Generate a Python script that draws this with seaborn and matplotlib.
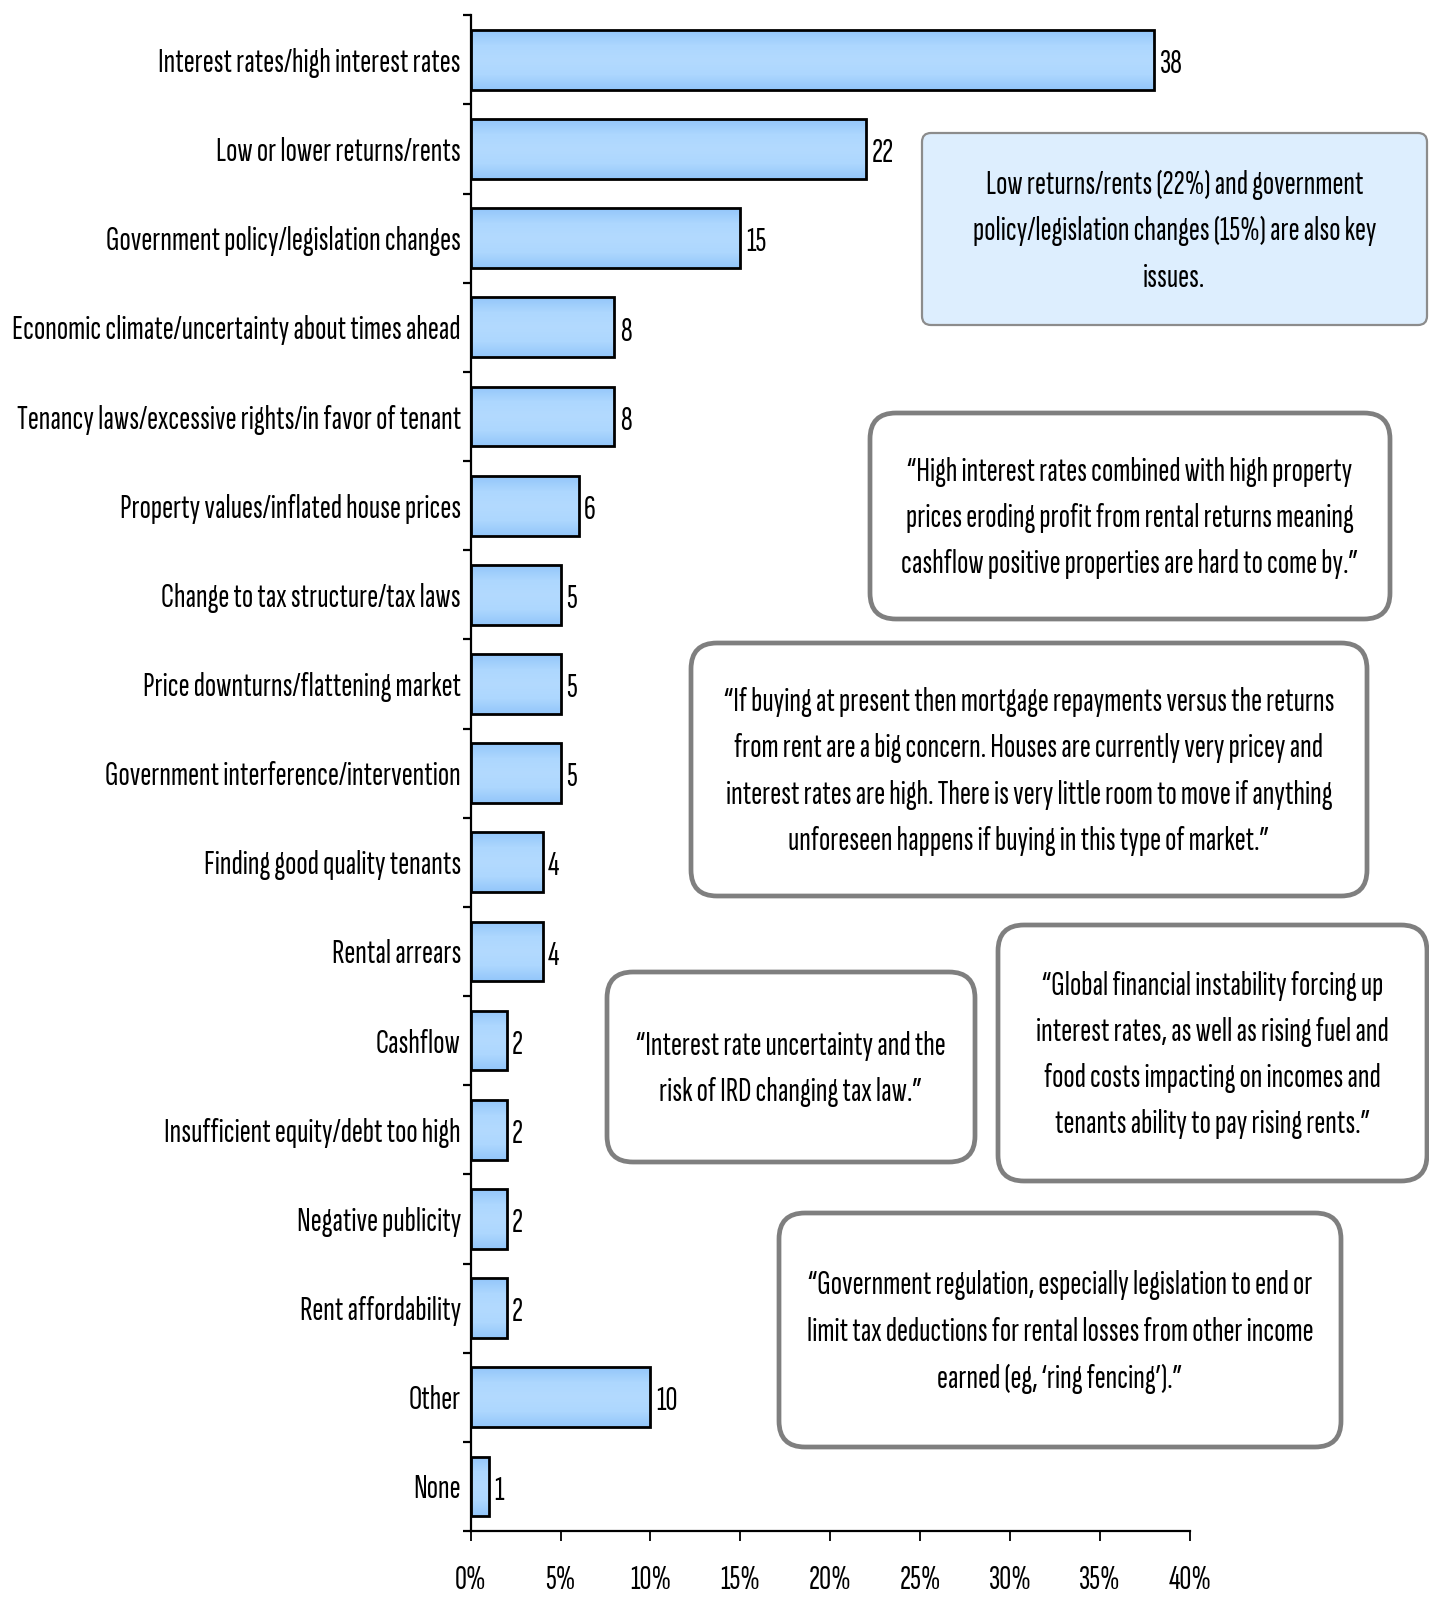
import matplotlib
matplotlib.use("Agg")
import numpy as np
import pandas as pd
import matplotlib.pyplot as plt
import seaborn as sns
from matplotlib.patches import FancyBboxPatch
from matplotlib.colors import LinearSegmentedColormap

# ---- data -------------------------------------------------------------
reasons = [
    "Interest rates/high interest rates",
    "Low or lower returns/rents",
    "Government policy/legislation changes",
    "Economic climate/uncertainty about times ahead",
    "Tenancy laws/excessive rights/in favor of tenant",
    "Property values/inflated house prices",
    "Change to tax structure/tax laws",
    "Price downturns/flattening market",
    "Government interference/intervention",
    "Finding good quality tenants",
    "Rental arrears",
    "Cashflow",
    "Insufficient equity/debt too high",
    "Negative publicity",
    "Rent affordability",
    "Other",
    "None",
]
percent = [38, 22, 15, 8, 8, 6, 5, 5, 5, 4, 4, 2, 2, 2, 2, 10, 1]
x_ticks = [0, 5, 10, 15, 20, 25, 30, 35, 40]

summary_note = ("Low returns/rents (22%) and government\n"
                "policy/legislation changes (15%) are also key\n"
                "issues.")
quotes = [
    "\u201cHigh interest rates combined with high property\n"
    "prices eroding profit from rental returns meaning\n"
    "cashflow positive properties are hard to come by.\u201d",
    "\u201cIf buying at present then mortgage repayments versus the returns\n"
    "from rent are a big concern. Houses are currently very pricey and\n"
    "interest rates are high. There is very little room to move if anything\n"
    "unforeseen happens if buying in this type of market.\u201d",
    "\u201cInterest rate uncertainty and the\n"
    "risk of IRD changing tax law.\u201d",
    "\u201cGlobal financial instability forcing up\n"
    "interest rates, as well as rising fuel and\n"
    "food costs impacting on incomes and\n"
    "tenants ability to pay rising rents.\u201d",
    "\u201cGovernment regulation, especially legislation to end or\n"
    "limit tax deductions for rental losses from other income\n"
    "earned (eg, \u2018ring fencing\u2019).\u201d",
]

# ---- style ------------------------------------------------------------
sns.set_style("white")
plt.rcParams["font.family"] = ["Sofia Sans Extra Condensed", "DejaVu Sans"]
FS = 24

W, H = 1429, 1600
fig = plt.figure(figsize=(W / 100, H / 100), dpi=100)
ax_left, ax_right, ax_top, ax_bottom = 470.6, 1190.0, 15.3, 1531.0
ax = fig.add_axes([ax_left / W, 1 - ax_bottom / H,
                   (ax_right - ax_left) / W, (ax_bottom - ax_top) / H])

df = pd.DataFrame({"reason": reasons, "percent": percent})
sns.barplot(data=df, x="percent", y="reason", color="#A6D2FD", width=0.67,
            edgecolor="black", linewidth=2.0, ax=ax, zorder=3)

# vertical gradient inside every bar
grad_cmap = LinearSegmentedColormap.from_list(
    "bar_grad", ["#93C6FA", "#ADD7FE", "#B3DAFF", "#ADD7FE", "#93C6FA"])
grad = np.linspace(0, 1, 64).reshape(-1, 1)
for patch in list(ax.patches):
    x0, y0 = patch.get_x(), patch.get_y()
    w, h = patch.get_width(), patch.get_height()
    im = ax.imshow(grad, extent=[x0, x0 + w, y0 + h, y0], cmap=grad_cmap,
                   aspect="auto", interpolation="bilinear", zorder=2.5)
    im.set_clip_path(patch)
    patch.set_facecolor("none")

for i, v in enumerate(percent):
    ax.annotate(f"{v}", xy=(v, i), xytext=(4, -3), textcoords="offset points",
                ha="left", va="center", fontsize=FS, color="black")

ax.set_xlim(0, 40)
ax.set_ylim(len(reasons) - 0.5, -0.5)
ax.set_xticks(x_ticks)
ax.set_xticklabels([f"{t}%" for t in x_ticks])
ax.set_yticks(range(len(reasons)))
ax.set_yticks(np.arange(-0.5, len(reasons), 1.0), minor=True)
ax.set_xlabel("")
ax.set_ylabel("")

ax.tick_params(axis="y", which="major", length=0, pad=7, labelsize=FS, labelcolor="black")
ax.tick_params(axis="y", which="minor", length=6, width=1.6, color="black", direction="out", left=True)
ax.tick_params(axis="x", which="major", length=7.5, width=1.3, color="black", direction="out",
               pad=17, labelsize=FS, labelcolor="black", bottom=True)

for side in ("top", "right"):
    ax.spines[side].set_visible(False)
for side in ("left", "bottom"):
    ax.spines[side].set_color("black")
    ax.spines[side].set_linewidth(1.6)

# ---- callout boxes, laid out in figure pixels -------------------------
over = fig.add_axes([0, 0, 1, 1], zorder=5)
over.set_xlim(0, W)
over.set_ylim(H, 0)
over.axis("off")
over.patch.set_alpha(0)


def callout(x0, y0, x1, y1, text, face="white", edge="#7F7F7F", lw=3.4, r=26):
    box = FancyBboxPatch((x0, y0), x1 - x0, y1 - y0,
                         boxstyle=f"round,pad=0,rounding_size={r}",
                         facecolor=face, edgecolor=edge, linewidth=lw)
    over.add_patch(box)
    over.text((x0 + x1) / 2, (y0 + y1) / 2 + 2, text, ha="center", va="center",
              fontsize=FS, color="black", linespacing=1.68,
              multialignment="center")


callout(922, 133, 1427, 325, summary_note, face="#DDEEFE", edge="#8C8C8C", lw=1.6, r=9)
callout(870, 413, 1390, 619, quotes[0])
callout(691, 643, 1367, 896, quotes[1])
callout(607, 972, 975, 1162, quotes[2])
callout(998, 925, 1427, 1181, quotes[3])
callout(779, 1213, 1341, 1447, quotes[4])

fig.savefig("out.png", dpi=100)
